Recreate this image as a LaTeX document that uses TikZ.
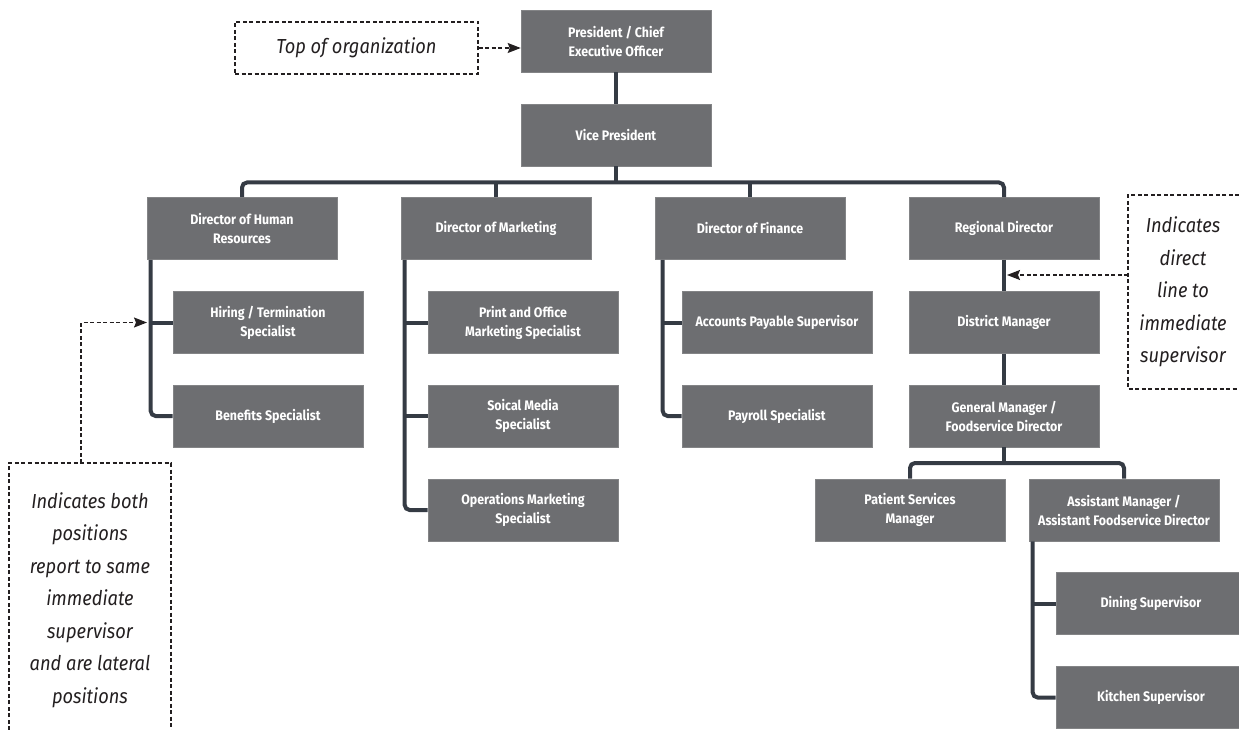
\documentclass[tikz,border=0pt]{standalone}
\usepackage{fontspec}
\setmainfont{Fira Sans}[FakeStretch=0.9]
\usetikzlibrary{arrows.meta}
\definecolor{boxgray}{HTML}{6D6E71}
\definecolor{connc}{HTML}{353B44}
\definecolor{calltxt}{HTML}{231F20}
\tikzset{
  box/.style={rectangle, fill=boxgray, draw=boxgray!85!white, line width=0.6pt,
    minimum width=190pt, minimum height=62pt, inner sep=0pt, align=center,
    text=white, font=\bfseries\fontsize{13.8}{19}\selectfont},
  conn/.style={line width=4pt, draw=connc, rounded corners=5pt},
  callline/.style={draw=calltxt, line width=1.1pt, dash pattern=on 4pt off 2.5pt},
  callarrow/.style={callline, -{Stealth[length=13pt,width=10pt,inset=2pt]}},
  calltext/.style={align=center, text=calltxt, inner sep=0pt,
    font=\itshape\fontsize{20.3}{32.5}\selectfont}
}
\begin{document}
\begin{tikzpicture}[x=1pt,y=-1pt]
\useasboundingbox (0,0) rectangle (1239,730);
% boxes
\node[box] (pres) at (616,41) {President / Chief\\Executive Officer};
\node[box] (vp) at (616,135) {Vice President};
\node[box] (hr) at (242,228.5) {Director of Human\\Resources};
\node[box] (mkt) at (496,228.5) {Director of Marketing};
\node[box] (fin) at (750,228.5) {Director of Finance};
\node[box] (reg) at (1004,228.5) {Regional Director};
\node[box] (hire) at (268,322.5) {Hiring / Termination\\Specialist};
\node[box] (ben) at (268,416) {Benefits Specialist};
\node[box] (print) at (523,322.5) {Print and Office\\Marketing Specialist};
\node[box] (social) at (523,416) {Soical Media\\Specialist};
\node[box] (ops) at (523,510) {Operations Marketing\\Specialist};
\node[box] (ap) at (777,322.5) {Accounts Payable Supervisor};
\node[box] (pay) at (777,416) {Payroll Specialist};
\node[box] (dist) at (1004,322.5) {District Manager};
\node[box] (gm) at (1004,416) {General Manager /\\Foodservice Director};
\node[box] (pat) at (910,510) {Patient Services\\Manager};
\node[box] (asst) at (1124,510) {Assistant Manager /\\Assistant Foodservice Director};
\node[box] (din) at (1151,603.5) {Dining Supervisor};
\node[box] (kit) at (1151,697.5) {Kitchen Supervisor};
% connectors
\coordinate (bus) at (616,182.5);
\draw[conn] (pres) -- (vp);
\draw[conn] (vp.south) -- (bus);
\draw[conn] (hr.north) |- (bus) -| (reg.north);
\draw[conn] (mkt.north) -- (mkt.north |- bus);
\draw[conn] (fin.north) -- (fin.north |- bus);
\coordinate (hrs) at ([xshift=4pt]hr.south west);
\draw[conn] (hrs) |- (ben.west);
\draw[conn] (hrs |- hire.west) -- (hire.west);
\coordinate (mks) at ([xshift=4pt]mkt.south west);
\draw[conn] (mks) |- (ops.west);
\draw[conn] (mks |- print.west) -- (print.west);
\draw[conn] (mks |- social.west) -- (social.west);
\coordinate (fis) at ([xshift=8pt]fin.south west);
\draw[conn] (fis) |- (pay.west);
\draw[conn] (fis |- ap.west) -- (ap.west);
\draw[conn] (reg) -- (dist);
\draw[conn] (dist) -- (gm);
\coordinate (gmbus) at (1004,463);
\draw[conn] (gm.south) -- (gmbus);
\draw[conn] (pat.north) |- (gmbus) -| (asst.north);
\coordinate (ass) at ([xshift=4pt]asst.south west);
\draw[conn] (ass) |- (kit.west);
\draw[conn] (ass |- din.west) -- (din.west);
% callouts
\node[calltext, draw=calltxt, line width=1.1pt, dash pattern=on 4pt off 2.5pt,
  minimum width=243pt, minimum height=52pt] (topc) at (356.5,48) {Top of organization};
\draw[callarrow] (topc.east) -- (topc.east -| pres.west);
\node[calltext] (rtext) at (1183,292) {Indicates\\direct\\line to\\immediate\\supervisor};
\draw[callline] (1239,195) -| (1128,389) -- (1239,389);
\coordinate (rc) at (1128,275);
\coordinate (rdarr) at (1007,275);
\draw[callarrow] (rc) -- (rdarr);
\node[calltext] (ltext) at (90,600) {Indicates both\\positions\\report to same\\immediate\\supervisor\\and are lateral\\positions};
\draw[callline] (9,730) |- (171,463) -- (171,730);
\coordinate (lc) at (81,463);
\coordinate (hrarr) at (147,322.5);
\draw[callarrow] (lc) |- (hrarr);
\end{tikzpicture}
\end{document}
